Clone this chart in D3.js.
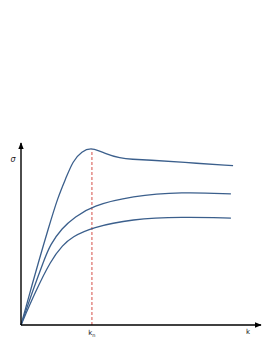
<!DOCTYPE html>
<html>
<head>
<meta charset="utf-8">
<script src="https://cdn.jsdelivr.net/npm/d3@7"></script>
<style>
  body { margin: 0; background: #fff; }
  svg { display: block; }
  text { font-family: "DejaVu Sans", sans-serif; fill: #222; }
</style>
</head>
<body>
<div id="chart"></div>
<script>
// k values and stress values (k runs 0..10, sigma 0..10)
const topK = [0, 0.37, 0.76, 1.13, 1.55, 1.89, 2.18, 2.55, 2.98, 3.57, 4.16, 4.66, 5.38, 6.76, 8.91];
const topSigma = [0, 1.77, 3.59, 5.25, 7.07, 8.12, 9.06, 9.6, 9.82, 9.45, 9.22, 9.15, 9.12, 8.99, 8.80];

const midK = [0, 0.46, 0.97, 1.22, 1.72, 2.27, 2.98, 4.66, 6.76, 8.82];
const midSigma = [0, 1.77, 3.59, 4.42, 5.36, 5.97, 6.57, 7.13, 7.35, 7.24];

const lowK = [0, 0.58, 1.26, 1.76, 2.14, 2.98, 4.66, 6.76, 8.82];
const lowSigma = [0, 1.77, 3.59, 4.42, 4.86, 5.39, 5.86, 5.97, 5.91];

const kn = 2.98;
const knTop = 9.7;

const W = 264, H = 341;
const ORIGIN_X = 21, ORIGIN_Y = 325;

let svg = d3.select('#chart').append('svg')
    .attr('width', W)
    .attr('height', H);

let x = d3.scaleLinear().domain([0, 10]).range([ORIGIN_X, 259]);
let y = d3.scaleLinear().domain([0, 10]).range([ORIGIN_Y, 144]);

let defs = svg.append('defs');
defs.append('marker')
    .attr('id', 'arrow')
    .attr('viewBox', '0 0 10 10')
    .attr('refX', 9)
    .attr('refY', 5)
    .attr('markerWidth', 5)
    .attr('markerHeight', 5)
    .attr('orient', 'auto')
    .append('path')
    .attr('d', 'M0,1 L10,5 L0,9 Z')
    .attr('fill', '#000');

// dashed k_n marker
svg.append('line')
    .attr('x1', x(kn)).attr('x2', x(kn))
    .attr('y1', y(0)).attr('y2', y(knTop))
    .attr('stroke', '#d9605a')
    .attr('stroke-width', 1.1)
    .attr('stroke-dasharray', '3,2');

// basis smooths out the small reading errors
let line = d3.line()
    .x(d => x(d[0]))
    .y(d => y(d[1]))
    .curve(d3.curveBasis);

let series = [
    d3.zip(topK, topSigma),
    d3.zip(midK, midSigma),
    d3.zip(lowK, lowSigma)
];

svg.selectAll('path.curve')
    .data(series)
    .join('path')
    .attr('class', 'curve')
    .attr('d', line)
    .attr('fill', 'none')
    .attr('stroke', '#3b5f8c')
    .attr('stroke-width', 1.3);

// axes with arrows
svg.append('line')
    .attr('x1', ORIGIN_X).attr('y1', ORIGIN_Y)
    .attr('x2', 261).attr('y2', ORIGIN_Y)
    .attr('stroke', '#000')
    .attr('stroke-width', 1.4)
    .attr('marker-end', 'url(#arrow)');

svg.append('line')
    .attr('x1', ORIGIN_X).attr('y1', ORIGIN_Y)
    .attr('x2', ORIGIN_X).attr('y2', 143)
    .attr('stroke', '#000')
    .attr('stroke-width', 1.4)
    .attr('marker-end', 'url(#arrow)');

svg.append('text')
    .attr('x', 13).attr('y', 162)
    .attr('text-anchor', 'middle')
    .attr('font-size', 8)
    .attr('font-style', 'italic')
    .text('σ');

let knLabel = svg.append('text')
    .attr('x', x(kn)).attr('y', 335)
    .attr('text-anchor', 'middle')
    .attr('font-size', 7);
knLabel.append('tspan').text('k');
knLabel.append('tspan').attr('font-size', 5).attr('dy', 1.5).text('n');

svg.append('text')
    .attr('x', 248).attr('y', 334)
    .attr('text-anchor', 'middle')
    .attr('font-size', 7)
    .text('k');
</script>
</body>
</html>
